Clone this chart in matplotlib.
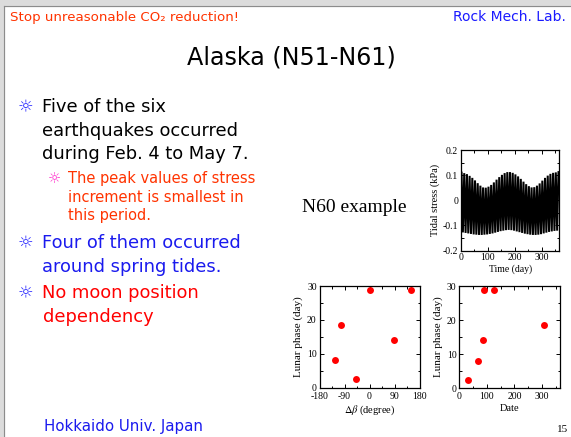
import numpy as np
import matplotlib
matplotlib.use('Agg')
import matplotlib.pyplot as plt
from matplotlib.patches import Rectangle
from matplotlib.lines import Line2D
from matplotlib.ticker import MultipleLocator

plt.rcParams['mathtext.fontset'] = 'stix'
plt.rcParams['axes.unicode_minus'] = False

# tidal stress example (N60): upper peaks / lower troughs
peak_day = np.arange(2, 363, 10)
peak_kpa = [0.110, 0.108, 0.104, 0.097, 0.089, 0.079, 0.068, 0.058, 0.051, 0.050,
            0.054, 0.061, 0.071, 0.082, 0.092, 0.101, 0.108, 0.112, 0.112, 0.109,
            0.103, 0.095, 0.085, 0.074, 0.064, 0.056, 0.051, 0.052, 0.058, 0.067,
            0.078, 0.089, 0.098, 0.105, 0.109, 0.111, 0.112]
trough_day = np.arange(7, 358, 10)
trough_kpa = [-0.128, -0.130, -0.132, -0.134, -0.136, -0.137, -0.138, -0.138, -0.137,
              -0.136, -0.134, -0.132, -0.129, -0.126, -0.123, -0.121, -0.119, -0.118,
              -0.119, -0.121, -0.124, -0.127, -0.130, -0.133, -0.135, -0.137, -0.138,
              -0.138, -0.137, -0.135, -0.132, -0.129, -0.126, -0.124, -0.122, -0.121]

# six earthquakes
eq_date = [32, 66, 86, 90, 126, 308]
eq_phase = [2.5, 8.0, 14.0, 28.7, 28.7, 18.5]
eq_dbeta = [-48, -125, 88, 2, 150, -102]

W, H = 571, 437
fig = plt.figure(figsize=(W / 100, H / 100), dpi=100)
fig.patch.set_facecolor('white')

def fx(x):
    return x / W

def fy(y):
    return 1 - y / H

# slide frame
fig.patches.append(Rectangle((0, fy(6)), 1, 6 / H, transform=fig.transFigure,
                             color='#dcdcdc', zorder=0))
fig.patches.append(Rectangle((0, 0), 4 / W, 1, transform=fig.transFigure,
                             color='#dcdcdc', zorder=0))
fig.lines.append(Line2D([fx(4), 1], [fy(6), fy(6)], transform=fig.transFigure,
                        color='#8c8c8c', lw=0.8))
fig.lines.append(Line2D([fx(4), fx(4)], [0, fy(6)], transform=fig.transFigure,
                        color='#8c8c8c', lw=0.8))

SANS = 'DejaVu Sans'
SERIF = 'Liberation Serif'

fig.text(fx(10), fy(17), 'Stop unreasonable CO\u2082 reduction!', color='#ff3300',
         fontsize=9.6, family=SANS, va='center', ha='left')
fig.text(fx(566), fy(17), 'Rock Mech. Lab.', color='#1a1aff', fontsize=10,
         family=SANS, va='center', ha='right')
fig.text(fx(291), fy(57), 'Alaska (N51-N61)', color='black', fontsize=17.2,
         family=SANS, va='center', ha='center')

BLUE = '#1a1aee'
bullets = [
    (107, ['Five of the six', 'earthquakes occurred', 'during Feb. 4 to May 7.'], 'black'),
    (243, ['Four of them occurred', 'around spring tides.'], BLUE),
    (293, ['No moon position', 'dependency'], '#ff0000'),
]
for y0, lines, col in bullets:
    fig.text(fx(25), fy(y0), '\u263c', color='#2a2aff', fontsize=12.5, family=SANS,
             va='center', ha='center', fontweight='bold')
    for i, s in enumerate(lines):
        fig.text(fx(42.5), fy(y0 + i * 23.5), s, color=col, fontsize=12.9,
                 family=SANS, va='center', ha='left')

sub_lines = ['The peak values of stress', 'increment is smallest in', 'this period.']
fig.text(fx(54), fy(179), '\u263c', color='#ff33cc', fontsize=10.5, family=SANS,
         va='center', ha='center', fontweight='bold')
for i, s in enumerate(sub_lines):
    fig.text(fx(67.5), fy(179 + i * 18.3), s, color='#ff3300', fontsize=10.5,
             family=SANS, va='center', ha='left')

fig.text(fx(44), fy(426), 'Hokkaido Univ. Japan', color=BLUE, fontsize=10.8,
         family=SANS, va='center', ha='left')
fig.text(fx(557), fy(430), '15', color='black', fontsize=8, family=SERIF,
         va='center', ha='left')
fig.text(fx(354), fy(208), 'N60 example', color='black', fontsize=14,
         family=SERIF, va='center', ha='center')


def style(ax, xmaj, xmin, ymaj, ymin):
    ax.xaxis.set_major_locator(MultipleLocator(xmaj))
    ax.xaxis.set_minor_locator(MultipleLocator(xmin))
    ax.yaxis.set_major_locator(MultipleLocator(ymaj))
    ax.yaxis.set_minor_locator(MultipleLocator(ymin))
    ax.tick_params(which='both', direction='in', top=True, right=True,
                   labelsize=7, labelfontfamily=SERIF, pad=2, width=0.7)
    ax.tick_params(which='major', length=3)
    ax.tick_params(which='minor', length=1.8)
    for sp in ax.spines.values():
        sp.set_linewidth(0.9)


# tidal stress panel
ax1 = fig.add_axes([fx(461), fy(250.5), 98.3 / W, 100.5 / H])
t = np.empty(len(peak_day) + len(trough_day))
v = np.empty_like(t)
t[0::2], v[0::2] = peak_day, peak_kpa
t[1::2], v[1::2] = trough_day, trough_kpa
ax1.plot(t, v, color='black', lw=1.45, solid_joinstyle='miter')
ax1.set_xlim(0, 365)
ax1.set_ylim(-0.2, 0.2)
style(ax1, 100, 50, 0.1, 0.05)
ax1.set_yticks([-0.2, -0.1, 0, 0.1, 0.2])
ax1.set_yticklabels(['-0.2', '-0.1', '0', '0.1', '0.2'])
ax1.set_xlabel('Time (day)', fontsize=7, family=SERIF, labelpad=1.5)
ax1.set_ylabel('Tidal stress (kPa)', fontsize=7.5, family=SERIF, labelpad=2)

# lunar phase vs delta beta
ax2 = fig.add_axes([fx(319.5), fy(387.5), 100 / W, 101.5 / H])
ax2.plot(eq_dbeta, eq_phase, 'o', color='#ff0000', ms=5, mec='none')
ax2.set_xlim(-180, 180)
ax2.set_ylim(0, 30)
style(ax2, 90, 45, 10, 5)
ax2.tick_params(axis='x', pad=3)
ax2.set_xticks([-180, -90, 0, 90, 180])
ax2.set_xlabel(r'$\Delta\beta$ (degree)', fontsize=7.5, family=SERIF, labelpad=2)
ax2.set_ylabel('Lunar phase (day)', fontsize=8, family=SERIF, labelpad=3)

# lunar phase vs date
ax3 = fig.add_axes([fx(459.3), fy(388), 100.7 / W, 102 / H])
ax3.plot(eq_date, eq_phase, 'o', color='#ff0000', ms=5, mec='none')
ax3.set_xlim(0, 365)
ax3.set_ylim(0, 30)
style(ax3, 100, 50, 10, 5)
ax3.tick_params(axis='x', pad=3)
ax3.set_xlabel('Date', fontsize=7.5, family=SERIF, labelpad=2)
ax3.set_ylabel('Lunar phase (day)', fontsize=8, family=SERIF, labelpad=3)

fig.savefig('out.png', dpi=100)
